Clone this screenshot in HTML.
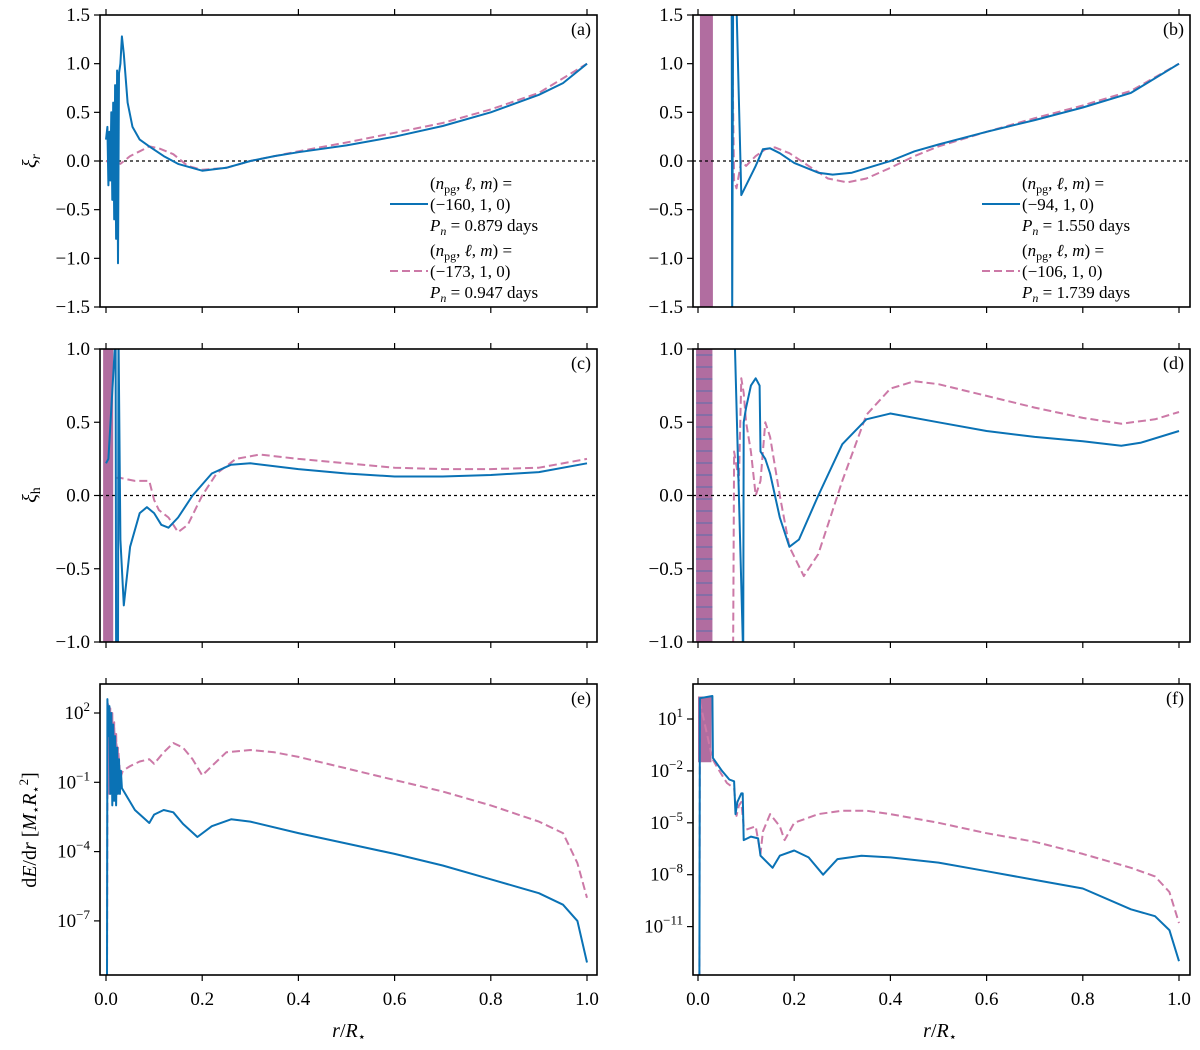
<!DOCTYPE html>
<html><head><meta charset="utf-8">
<style>
html,body{margin:0;padding:0;background:#fff;}
svg{display:block;font-family:"Liberation Serif","DejaVu Serif",serif;}
</style></head>
<body>
<svg id="fig" width="1200" height="1050" viewBox="0 0 1200 1050" xmlns="http://www.w3.org/2000/svg"></svg>
<script>
// ---- data ----
const xTicks = [0, 0.2, 0.4, 0.6, 0.8, 1.0];
const xTickLabels = ["0.0","0.2","0.4","0.6","0.8","1.0"];
const xiRTicks = [-1.5,-1.0,-0.5,0.0,0.5,1.0,1.5];
const xiRTickLabels = ["-1.5","-1.0","-0.5","0.0","0.5","1.0","1.5"];
const xiHTicks = [-1.0,-0.5,0.0,0.5,1.0];
const xiHTickLabels = ["-1.0","-0.5","0.0","0.5","1.0"];
const logTicksE = [2,-1,-4,-7];
const logTicksF = [1,-2,-5,-8,-11];

// panel (a)
const aBlueR = [0,0.003,0.005,0.007,0.009,0.011,0.013,0.015,0.017,0.019,0.021,0.023,0.025,0.027,0.03,0.033,0.037,0.045,0.055,0.07,0.09,0.12,0.15,0.2,0.25,0.3,0.35,0.4,0.5,0.6,0.7,0.8,0.9,0.95,1.0];
const aBlueV = [0.22,0.35,-0.25,0.3,-0.2,0.5,-0.4,0.6,-0.6,0.78,-0.8,0.93,-1.05,0.9,1.0,1.28,1.1,0.6,0.35,0.22,0.15,0.05,-0.03,-0.1,-0.07,0.0,0.05,0.09,0.16,0.25,0.36,0.5,0.68,0.8,1.0];
const aPinkR = [0,0.01,0.02,0.03,0.05,0.07,0.09,0.11,0.14,0.17,0.2,0.25,0.3,0.4,0.5,0.6,0.7,0.8,0.9,1.0];
const aPinkV = [0,-0.02,0.0,-0.03,0.05,0.1,0.15,0.13,0.07,-0.05,-0.09,-0.07,0.0,0.1,0.19,0.29,0.39,0.53,0.7,1.0];
// panel (b)
const bBlueR = [0.07,0.071,0.073,0.08,0.09,0.1,0.12,0.135,0.15,0.17,0.2,0.25,0.28,0.32,0.36,0.4,0.45,0.5,0.6,0.7,0.8,0.9,1.0];
const bBlueV = [1.6,-1.6,1.6,1.6,-0.35,-0.25,-0.05,0.12,0.13,0.08,-0.02,-0.12,-0.14,-0.12,-0.06,0.0,0.1,0.17,0.3,0.42,0.55,0.7,1.0];
const bPinkR = [0.07,0.075,0.08,0.09,0.1,0.12,0.14,0.16,0.19,0.23,0.27,0.31,0.35,0.4,0.45,0.5,0.6,0.7,0.8,0.9,1.0];
const bPinkV = [1.6,-0.2,-0.28,0.0,-0.05,0.05,0.12,0.14,0.08,-0.05,-0.18,-0.22,-0.18,-0.07,0.05,0.15,0.3,0.44,0.57,0.72,1.0];
const bBand = [0.004,0.031];
// panel (c)
const cBlueR = [0.0,0.005,0.02,0.021,0.025,0.026,0.03,0.037,0.05,0.07,0.085,0.1,0.115,0.13,0.15,0.18,0.22,0.26,0.3,0.4,0.5,0.6,0.7,0.8,0.9,1.0];
const cBlueV = [0.22,0.25,1.1,-1.1,-1.1,1.1,-0.3,-0.75,-0.35,-0.12,-0.08,-0.12,-0.2,-0.22,-0.15,0.0,0.15,0.21,0.22,0.18,0.15,0.13,0.13,0.14,0.16,0.22];
const cPinkR = [0.02,0.03,0.06,0.09,0.1,0.11,0.13,0.15,0.17,0.2,0.23,0.27,0.32,0.4,0.5,0.6,0.7,0.8,0.9,1.0];
const cPinkV = [0.12,0.12,0.1,0.1,-0.03,-0.1,-0.15,-0.25,-0.2,0.0,0.15,0.25,0.28,0.25,0.22,0.19,0.18,0.18,0.19,0.25];
const cBand = [-0.006,0.015];
// panel (d)
const dBlueR = [0.075,0.076,0.094,0.095,0.1,0.11,0.12,0.128,0.13,0.14,0.15,0.17,0.19,0.21,0.25,0.3,0.35,0.4,0.5,0.6,0.7,0.8,0.88,0.92,1.0];
const dBlueV = [1.1,1.1,-1.1,0.5,0.6,0.75,0.8,0.75,0.3,0.25,0.15,-0.15,-0.35,-0.3,0.0,0.35,0.52,0.56,0.5,0.44,0.4,0.37,0.34,0.36,0.44];
const dPinkR = [0.073,0.075,0.085,0.09,0.095,0.1,0.11,0.12,0.13,0.135,0.14,0.15,0.17,0.19,0.22,0.25,0.3,0.35,0.4,0.45,0.5,0.6,0.7,0.8,0.88,0.95,1.0];
const dPinkV = [-1.1,0.3,0.1,0.8,0.7,0.5,0.3,0.0,0.1,0.3,0.5,0.4,0.0,-0.35,-0.55,-0.4,0.1,0.55,0.73,0.78,0.76,0.68,0.6,0.53,0.49,0.52,0.57];
const dBand = [-0.004,0.03];
// panel (e) log10 values
const eBlueR = [0.002,0.003,0.005,0.007,0.009,0.011,0.013,0.015,0.017,0.019,0.021,0.023,0.025,0.027,0.029,0.031,0.033,0.06,0.09,0.1,0.12,0.14,0.16,0.19,0.22,0.26,0.3,0.4,0.5,0.6,0.7,0.8,0.9,0.95,0.98,1.0];
const eBlueV = [-9.5,2.6,1.0,2.3,-1.5,2.0,-2.0,1.5,-1.8,1.0,-2.0,0.5,-1.5,0.0,-1.5,-0.5,-1.25,-2.2,-2.76,-2.4,-2.2,-2.3,-2.8,-3.37,-2.9,-2.6,-2.7,-3.2,-3.65,-4.1,-4.6,-5.2,-5.8,-6.3,-7.0,-8.8];
const ePinkR = [0.002,0.003,0.005,0.007,0.009,0.011,0.013,0.015,0.017,0.019,0.021,0.023,0.025,0.03,0.035,0.05,0.07,0.09,0.1,0.12,0.14,0.16,0.18,0.2,0.22,0.25,0.3,0.35,0.4,0.5,0.6,0.7,0.8,0.9,0.95,0.98,1.0];
const ePinkV = [-9.5,-1.3,2.4,-1.5,2.2,-1.4,2.0,-1.2,1.6,-1.0,1.2,-0.9,0.5,-0.8,-0.5,-0.3,-0.1,0.0,-0.2,0.3,0.7,0.5,0.0,-0.7,-0.3,0.3,0.4,0.3,0.1,-0.4,-0.9,-1.4,-2.0,-2.7,-3.2,-4.5,-6.0];
// panel (f) log10 values
const fBlueR = [0.003,0.004,0.03,0.031,0.05,0.065,0.075,0.078,0.082,0.09,0.093,0.095,0.11,0.125,0.13,0.155,0.17,0.2,0.23,0.26,0.29,0.34,0.4,0.5,0.6,0.7,0.8,0.9,0.95,0.98,1.0];
const fBlueV = [-14,2.2,2.33,-1.25,-2.0,-2.5,-2.6,-4.5,-3.8,-3.3,-3.3,-6.0,-5.8,-5.9,-6.9,-7.6,-6.9,-6.6,-7.0,-8.0,-7.1,-6.9,-7.0,-7.3,-7.8,-8.3,-8.8,-10.0,-10.4,-11.2,-13.0];
const fPinkR = [0.003,0.004,0.03,0.04,0.06,0.075,0.08,0.085,0.09,0.095,0.1,0.12,0.13,0.135,0.15,0.17,0.18,0.2,0.25,0.3,0.35,0.4,0.5,0.6,0.7,0.8,0.9,0.95,0.98,1.0];
const fPinkV = [-14,2.0,-1.3,-1.8,-2.7,-3.0,-4.6,-4.0,-3.8,-5.2,-5.4,-5.2,-6.8,-5.5,-4.5,-5.2,-6.0,-5.0,-4.5,-4.3,-4.3,-4.5,-5.0,-5.6,-6.1,-6.8,-7.6,-8.1,-9.0,-10.8];
const eBandTop = [2.6,2.2,1.6,1.0,0.5];
const eBandR = [0.003,0.009,0.015,0.021,0.025];
const fBand = [0.0,0.028,2.3,-1.5];

// ---- drawing ----
const NS = "http://www.w3.org/2000/svg";
const svg = document.getElementById('fig');
const BLUE = "#0a72b5", PINK = "#cc79a7", FILL = "#b16da0";
function el(tag, attrs, parent) {
  const e = document.createElementNS(NS, tag);
  for (const k in attrs) e.setAttribute(k, attrs[k]);
  (parent || svg).appendChild(e);
  return e;
}
const cols = [{x0:100,x1:597,base:106},{x0:693,x1:1190,base:698}];
const rows = [{y0:15,y1:307},{y0:349,y1:642},{y0:684,y1:975}];
function xScale(c){ return r => cols[c].base + 481*r; }
function linY(row, lo, hi){ const R=rows[row]; return v => R.y1 - (v-lo)/(hi-lo)*(R.y1-R.y0); }
function logY(ref, refLog, ppd){ return v => ref - (v-refLog)*ppd; }

const panels = [
 {id:'a',c:0,r:0,y:linY(0,-1.5,1.5),ticks:xiRTicks,labels:xiRTickLabels,log:false},
 {id:'b',c:1,r:0,y:linY(0,-1.5,1.5),ticks:xiRTicks,labels:xiRTickLabels,log:false},
 {id:'c',c:0,r:1,y:linY(1,-1,1),ticks:xiHTicks,labels:xiHTickLabels,log:false},
 {id:'d',c:1,r:1,y:linY(1,-1,1),ticks:xiHTicks,labels:xiHTickLabels,log:false},
 {id:'e',c:0,r:2,y:logY(713,2,23.1),ticks:logTicksE,log:true},
 {id:'f',c:1,r:2,y:logY(719,1,17.3),ticks:logTicksF,log:true}
];

function path(xs, ys, X, Y, attrs, g){
  let d = "";
  for (let i=0;i<xs.length;i++) d += (i?"L":"M") + X(xs[i]).toFixed(1) + "," + Y(ys[i]).toFixed(1);
  return el('path', Object.assign({d:d, fill:'none','stroke-linejoin':'round'}, attrs), g);
}

panels.forEach(P => {
  const C = cols[P.c], R = rows[P.r], X = xScale(P.c), Y = P.y;
  const g = el('g', {});
  
  
  const clipId = 'clip-' + P.id;
  const cp = el('clipPath', {id:clipId}, g);
  el('rect', {x:C.x0, y:R.y0, width:C.x1-C.x0, height:R.y1-R.y0}, cp);
  const plot = el('g', {'clip-path':'url(#'+clipId+')'}, g);
  
  

  if (P.id==='b' || P.id==='c' || P.id==='d') {
    const band = P.id==='b'?bBand:(P.id==='c'?cBand:dBand);
    const rr = el('rect', {x:X(band[0]), y:R.y0, width:X(band[1])-X(band[0]), height:R.y1-R.y0, fill:FILL}, plot);
    
    
    if (P.id==='d') {
      for (let yy=R.y0+6; yy<R.y1; yy+=12) el('line',{x1:X(band[0]),x2:X(band[1]),y1:yy,y2:yy,stroke:BLUE,'stroke-width':0.8,opacity:0.7},plot);
    }
  }
  if (P.id==='e') {
    let d = "M"+X(eBandR[0])+","+Y(-1.5);
    for (let i=0;i<eBandR.length;i++) d += "L"+X(eBandR[i]).toFixed(1)+","+Y(eBandTop[i]).toFixed(1);
    d += "L"+X(eBandR[eBandR.length-1])+","+Y(-1.5)+"Z";
    const f = el('path',{d:d,fill:FILL,opacity:0.85},plot);
    
    
  }
  if (P.id==='f') {
    const f = el('rect',{x:X(fBand[0]),y:Y(fBand[2]),width:X(fBand[1])-X(fBand[0]),height:Y(fBand[3])-Y(fBand[2]),fill:FILL},plot);
    
    
  }
  if (!P.log) {
    const z = el('line',{x1:C.x0,x2:C.x1,y1:Y(0),y2:Y(0),stroke:'#000','stroke-width':1.3,'stroke-dasharray':'3,3'},plot);
    
    
  }
  const S = {a:[aBlueR,aBlueV,aPinkR,aPinkV],b:[bBlueR,bBlueV,bPinkR,bPinkV],c:[cBlueR,cBlueV,cPinkR,cPinkV],
             d:[dBlueR,dBlueV,dPinkR,dPinkV],e:[eBlueR,eBlueV,ePinkR,ePinkV],f:[fBlueR,fBlueV,fPinkR,fPinkV]}[P.id];
  const pk = path(S[2], S[3], X, Y, {stroke:PINK,'stroke-width':2,'stroke-dasharray':'8,4'}, plot);
  
  
  const bl = path(S[0], S[1], X, Y, {stroke:BLUE,'stroke-width':2}, plot);
  
  

  const fr = el('rect',{x:C.x0,y:R.y0,width:C.x1-C.x0,height:R.y1-R.y0,fill:'none',stroke:'#000','stroke-width':1.6},g);
  
  
  xTicks.forEach((t,i) => {
    const x = X(t);
    el('line',{x1:x,x2:x,y1:R.y0,y2:R.y0-6,stroke:'#000','stroke-width':1.2},g);
    el('line',{x1:x,x2:x,y1:R.y1,y2:R.y1+6,stroke:'#000','stroke-width':1.2},g);
    if (P.r===2) {
      const tx = el('text',{x:x,y:1005,'text-anchor':'middle','font-size':19},g);
      tx.textContent = xTickLabels[i];
      
      
    }
  });
  P.ticks.forEach((t,i) => {
    const y = Y(t);
    el('line',{x1:C.x0,x2:C.x0-6,y1:y,y2:y,stroke:'#000','stroke-width':1.2},g);
    const tx = el('text',{x:C.x0-10,y:y+6,'text-anchor':'end','font-size':19},g);
    if (P.log) {
      tx.textContent = "10";
      const s = el('tspan',{dy:-8,'font-size':13},tx);
      s.textContent = t<0 ? "\u2212"+(-t) : String(t);
    } else {
      tx.textContent = P.labels[i].replace('-','\u2212');
    }
    
    
  });
  const lt = el('text',{x:C.x1-6,y:R.y0+20,'text-anchor':'end','font-size':18},g);
  lt.textContent = "(" + P.id + ")";
  
  
});

const legendA = [["(\u2212160, 1, 0)","0.879"],["(\u2212173, 1, 0)","0.947"]];
const legendB = [["(\u221294, 1, 0)","1.550"],["(\u2212106, 1, 0)","1.739"]];
function legend(x, lx, items){
  const g = el('g',{});
  
  
  items.forEach((it,k) => {
    const y0 = 189 + k*67;
    const t1 = el('text',{x:x,y:y0,'font-size':17},g);
    t1.innerHTML = '(<tspan font-style="italic">n</tspan><tspan font-size="12" dy="4">pg</tspan><tspan dy="-4">, </tspan><tspan font-style="italic">\u2113</tspan>, <tspan font-style="italic">m</tspan>) =';
    const t2 = el('text',{x:x,y:y0+21,'font-size':17},g);
    t2.textContent = it[0];
    const t3 = el('text',{x:x,y:y0+42,'font-size':17},g);
    t3.innerHTML = '<tspan font-style="italic">P</tspan><tspan font-size="12" dy="4" font-style="italic">n</tspan><tspan dy="-4"> = ' + it[1] + ' days</tspan>';
    const ln = el('line',{x1:lx,x2:lx+38,y1:y0+15,y2:y0+15,stroke:k?PINK:BLUE,'stroke-width':2,'stroke-dasharray':k?'8,4':'none'},g);
    
    
  });
}
legend(430, 390, legendA);
legend(1022, 982, legendB);

function ylab(y, html){
  const t = el('text',{x:0,y:0,'font-size':20,transform:'translate(36,'+y+') rotate(-90)','text-anchor':'middle'});
  t.innerHTML = html;
  
  
}
ylab(161, '<tspan font-style="italic">\u03BE</tspan><tspan font-size="14" dy="4" font-style="italic">r</tspan>');
ylab(495, '<tspan font-style="italic">\u03BE</tspan><tspan font-size="14" dy="4">h</tspan>');
ylab(830, 'd<tspan font-style="italic">E</tspan>/d<tspan font-style="italic">r</tspan> [<tspan font-style="italic">M</tspan><tspan font-size="13" dy="4">\u22C6</tspan><tspan dy="-4" font-style="italic">R</tspan><tspan font-size="13" dy="4">\u22C6</tspan><tspan font-size="13" dy="-12">2</tspan><tspan dy="8">]</tspan>');
[349, 940].forEach(cx => {
  const t = el('text',{x:cx,y:1037,'font-size':20,'text-anchor':'middle'});
  t.innerHTML = '<tspan font-style="italic">r</tspan>/<tspan font-style="italic">R</tspan><tspan font-size="13" dy="4">\u22C6</tspan>';
  
  
});
</script>
</body></html>
